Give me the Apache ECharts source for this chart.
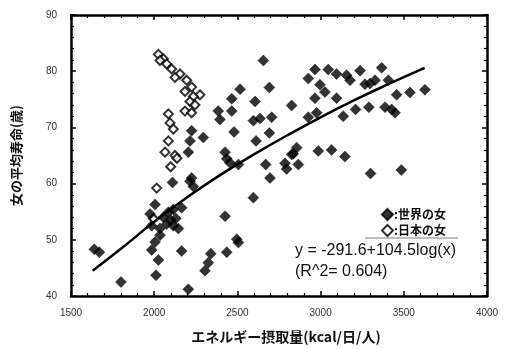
<!DOCTYPE html>
<html>
<head>
<meta charset="utf-8">
<script src="https://cdn.jsdelivr.net/npm/echarts@6/dist/echarts.min.js"></script>
<style>
  html, body { margin: 0; padding: 0; background: #fff; }
  #chart { width: 514px; height: 349px; }
</style>
</head>
<body>
<div id="chart"></div>
<script>
// 世界の女: [エネルギー摂取量, 平均寿命]
var worldWomen = [
  [1640, 48.3], [1670, 47.8], [1800, 42.5],
  [1975, 54.6], [1985, 52.5], [1985, 48.2], [2005, 56.3], [2005, 49.6], [2011, 43.7],
  [2025, 46.4], [2035, 52.0], [2035, 50.8], [2055, 54.0], [2075, 52.8], [2085, 54.9],
  [2100, 53.5], [2115, 55.4], [2115, 52.5], [2130, 53.8], [2145, 52.0], [2165, 55.7],
  [2165, 48.0], [2205, 41.2], [2110, 60.2], [2215, 60.4], [2235, 59.5], [2225, 61.0],
  [2205, 65.6], [2215, 67.6], [2225, 69.4], [2295, 68.2], [2305, 44.5], [2325, 45.9],
  [2340, 47.5], [2385, 72.9], [2395, 71.4], [2426, 54.2], [2436, 47.8], [2496, 50.1],
  [2506, 49.5], [2596, 57.5], [2436, 64.4], [2426, 65.6], [2455, 63.7], [2506, 63.4],
  [2466, 75.1], [2466, 72.9], [2480, 69.2], [2516, 76.8], [2606, 74.6], [2596, 71.2],
  [2636, 71.6], [2612, 67.6], [2656, 81.9], [2692, 77.1], [2706, 71.8], [2692, 69.0],
  [2670, 63.4], [2696, 61.0], [2786, 63.6], [2796, 62.6], [2826, 65.2], [2866, 63.4],
  [2836, 65.3], [2856, 66.4], [2986, 65.8], [3066, 66.0], [3146, 64.8],
  [2826, 73.9], [2926, 78.7], [2966, 80.3], [2996, 77.6], [3026, 76.3], [3046, 80.3],
  [3096, 79.5], [3156, 79.3], [3177, 78.4], [3237, 80.1], [3367, 80.6], [2966, 75.2],
  [3096, 75.2], [2926, 71.8], [2976, 72.6], [3136, 72.0], [3210, 73.2], [3290, 73.6],
  [3387, 73.6], [3427, 73.2], [3447, 72.6], [3267, 77.7], [3297, 77.8], [3327, 78.4],
  [3407, 78.4], [3457, 75.8], [3537, 76.2], [3627, 76.7], [3300, 61.8], [3485, 62.4]
];

// 日本の女
var japanWomen = [
  [2025, 83.0], [2055, 82.2], [2035, 81.9], [2075, 81.3], [2105, 80.4], [2155, 79.5],
  [2125, 78.9], [2195, 78.4], [2225, 77.2], [2185, 76.4], [2275, 75.8], [2235, 75.5],
  [2215, 74.6], [2245, 74.0], [2185, 72.9], [2225, 72.6], [2085, 72.4], [2095, 70.8],
  [2115, 69.7], [2085, 67.6], [2065, 65.6], [2125, 65.0], [2099, 63.0], [2137, 64.5],
  [2015, 59.2], [1995, 53.8]
];

// 回帰曲線
var fitCurve = [
  [1630, 44.5], [1800, 48.4], [2000, 53.2], [2200, 57.6], [2400, 61.6], [2600, 65.2],
  [2800, 68.6], [3000, 71.8], [3200, 74.8], [3400, 77.6], [3625, 80.6]
];

var xRange = [1500, 4000];
var yRange = [40, 90];

var myChart = echarts.init(document.getElementById('chart'));

var labelStyle = { color: '#333', fontSize: 10, fontFamily: 'Liberation Sans', formatter: function (v) { return String(v); } };

function xAxisDef(pos, show) {
  return {
    type: 'value', position: pos, min: xRange[0], max: xRange[1], interval: 500,
    axisLine: { show: true, onZero: false, lineStyle: { color: '#000', width: 2.5 } },
    axisTick: { show: true, inside: true, length: 5, lineStyle: { color: '#000', width: 1.5 } },
    minorTick: { show: true, splitNumber: 5, length: 3, lineStyle: { color: '#000', width: 1.2 } },
    splitLine: { show: false },
    axisLabel: Object.assign({ show: show, margin: 12 }, labelStyle)
  };
}
function yAxisDef(pos, show) {
  return {
    type: 'value', position: pos, min: yRange[0], max: yRange[1], interval: 10,
    axisLine: { show: true, onZero: false, lineStyle: { color: '#000', width: 2.5 } },
    axisTick: { show: true, inside: true, length: 5, lineStyle: { color: '#000', width: 1.5 } },
    minorTick: { show: true, splitNumber: 5, length: 3, lineStyle: { color: '#000', width: 1.2 } },
    splitLine: { show: false },
    axisLabel: Object.assign({ show: show, margin: 14 }, labelStyle)
  };
}

var xBottom = xAxisDef('bottom', true);
xBottom.name = 'エネルギー摂取量(kcal/日/人)';
xBottom.nameLocation = 'middle';
xBottom.nameGap = 34;
xBottom.nameTextStyle = { fontFamily: 'Noto Sans CJK JP', fontWeight: 'bold', fontSize: 14, color: '#111', padding: [0, 0, 0, 14] };

var yLeft = yAxisDef('left', true);
yLeft.name = '女の平均寿命(歳)';
yLeft.nameLocation = 'middle';
yLeft.nameGap = 48;
yLeft.nameTextStyle = { fontFamily: 'Noto Sans CJK JP', fontWeight: 'bold', fontSize: 13, color: '#111' };

option = {
  backgroundColor: '#fff',
  animation: false,
  grid: { left: 71, right: 27, top: 15, bottom: 47 },
  xAxis: [xBottom, xAxisDef('top', false)],
  yAxis: [yLeft, yAxisDef('right', false)],
  legend: {
    orient: 'vertical', left: 376, top: 203, itemWidth: 11, itemHeight: 11, itemGap: 3,
    data: [
      { name: '世界の女', icon: 'diamond' },
      { name: '日本の女', icon: 'diamond' }
    ],
    formatter: ':{name}',
    textStyle: { fontFamily: 'Noto Sans CJK JP', fontWeight: 'bold', fontSize: 12, color: '#111', padding: [0, 0, 0, -4] }
  },
  graphic: [
    { type: 'line', shape: { x1: 365, y1: 238, x2: 458, y2: 238 }, style: { stroke: '#aaa', lineWidth: 1.5 } },
    { type: 'text', left: 295, top: 243, style: { text: 'y = -291.6+104.5log(x)', font: '16px "Liberation Sans"', fill: '#111' } },
    { type: 'text', left: 295, top: 264, style: { text: '(R^2= 0.604)', font: '16px "Liberation Sans"', fill: '#111' } }
  ],
  series: [
    {
      name: '世界の女', type: 'scatter', data: worldWomen, symbol: 'diamond', symbolSize: 11,
      itemStyle: { color: '#000', borderColor: '#000', borderWidth: 0.5 }, z: 3
    },
    {
      name: '日本の女', type: 'scatter', data: japanWomen, symbol: 'diamond', symbolSize: 9,
      itemStyle: { color: '#fff', borderColor: '#000', borderWidth: 2 }, z: 2
    },
    {
      name: 'fit', type: 'line', data: fitCurve, smooth: true, symbol: 'none',
      lineStyle: { color: '#000', width: 2.5 }, z: 4
    }
  ]
};

myChart.setOption(option);
</script>
</body>
</html>
